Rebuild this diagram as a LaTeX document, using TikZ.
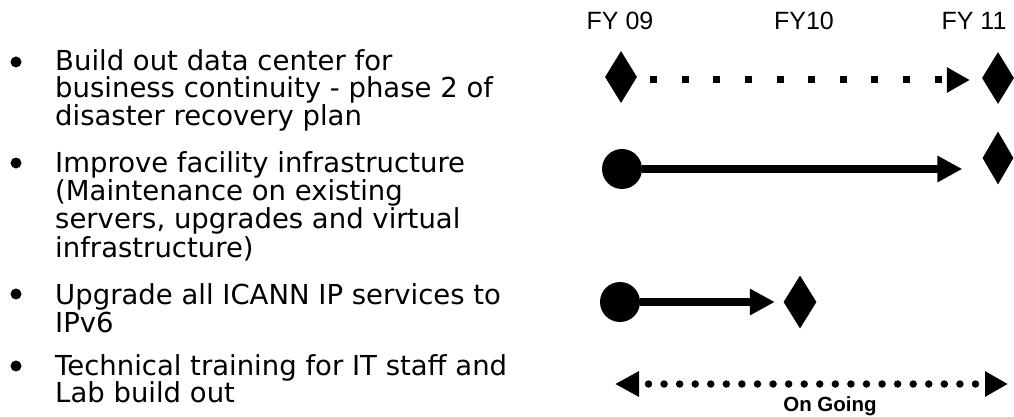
\documentclass[tikz,border=0pt]{standalone}
\usepackage{fontspec}
\setmainfont{DejaVu Sans}
\newfontfamily\arialfont{Liberation Sans}
\usetikzlibrary{shapes.geometric,arrows.meta}
\tikzset{
  txt/.style={anchor=base west, inner sep=0pt, font=\fontsize{27.5}{28}\selectfont},
  bul/.style={circle, fill=black, minimum size=11pt, inner sep=0pt},
  hdr/.style={anchor=base, inner sep=0pt, font=\arialfont\fontsize{25}{25}\selectfont},
  milestone/.style={diamond, fill=black, inner sep=0pt, minimum width=32pt, minimum height=52pt},
  startdot/.style={circle, fill=black, inner sep=0pt, minimum size=40pt},
  solidarrow/.style={line width=8pt, -{Triangle[length=25pt,width=25pt]}},
  squaredots/.style={line width=7pt, dash pattern=on 7pt off 24.6pt, -{Triangle[length=23pt,width=24pt]}},
  rounddots/.style={line width=7.5pt, line cap=round, dash pattern=on 0pt off 15.57pt, dash phase=4.57pt, {Triangle[length=24pt,width=24pt]}-{Triangle[length=23pt,width=24pt]}},
}
\begin{document}
\begin{tikzpicture}[x=1pt,y=-1pt]
\useasboundingbox (0,0) rectangle (1014,417);
% headers
\node[hdr] (h09) at (620,30) {FY 09};
\node[hdr] (h10) at (804,30) {FY10};
\node[hdr] (h11) at (974,30) {FY 11};
% bullet list
\node[bul] (b1) at (16,62) {};
\node[txt] (t11) at (55,71) {Build out data center for};
\node[txt] (t12) at (55,98) {business continuity - phase 2 of};
\node[txt] (t13) at (55,125) {disaster recovery plan};
\node[bul] (b2) at (16,163) {};
\node[txt] (t21) at (55,172) {Improve facility infrastructure};
\node[txt] (t22) at (55,200) {(Maintenance on existing};
\node[txt] (t23) at (55,228) {servers, upgrades and virtual};
\node[txt] (t24) at (55,257) {infrastructure)};
\node[bul] (b3) at (16,294) {};
\node[txt] (t31) at (55,304) {Upgrade all ICANN IP services to};
\node[txt] (t32) at (55,332) {IPv6};
\node[bul] (b4) at (16,366) {};
\node[txt] (t41) at (55,375) {Technical training for IT staff and};
\node[txt] (t42) at (55,402) {Lab build out};
% row 1
\node[milestone] (d1a) at (621,77) {};
\node[milestone] (d1b) at (998,78) {};
\draw[squaredots, shorten <=13pt, shorten >=12pt] (d1a.east |- 0,80) coordinate (s1) -- (s1 -| d1b.west);
% row 2
\node[startdot] (c2) at (622,169) {};
\node[milestone, minimum width=31pt, minimum height=53pt] (d2) at (998,158) {};
\draw[solidarrow, shorten >=20pt] (c2) -- (c2 -| d2.west);
% row 3
\node[startdot] (c3) at (620,302) {};
\node[milestone, minimum width=33pt, minimum height=53pt] (d3) at (800,302) {};
\draw[solidarrow, shorten >=8.5pt] (c3) -- (d3.west);
% row 4
\coordinate (l4) at (615,384);
\coordinate (r4) at (1008,384);
\draw[rounddots] (l4) -- (r4);
\node[anchor=base, inner sep=0pt, font=\arialfont\bfseries\fontsize{20.5}{21}\selectfont] (og) at (830,411) {On Going};
\end{tikzpicture}
\end{document}
